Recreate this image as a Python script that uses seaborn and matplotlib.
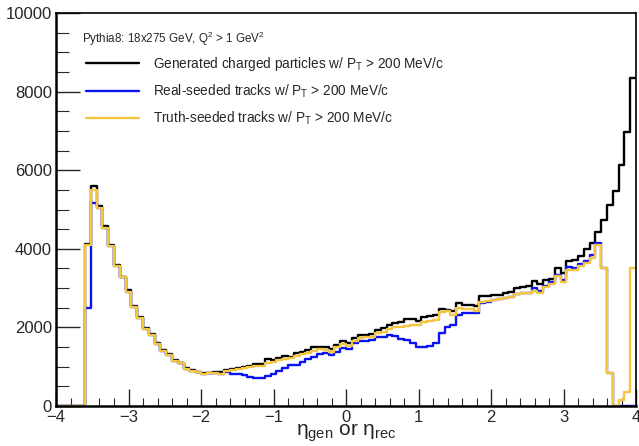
import numpy as np
import pandas as pd
import matplotlib
matplotlib.use("Agg")
import matplotlib.pyplot as plt
from matplotlib.ticker import MultipleLocator
from matplotlib.lines import Line2D
import seaborn as sns

# ---------------- data (100 bins, eta -4 .. 4) ----------------
eta_range = (-4.0, 4.0)
n_bins = 100

generated = [
    0, 0, 0, 0, 0, 4130, 5590, 5080, 4570, 4085,
    3593, 3295, 2939, 2548, 2276, 1979, 1826, 1597, 1427, 1316,
    1172, 1104, 960, 917, 870, 830, 850, 865, 870, 917,
    943, 977, 1002, 1028, 1062, 1062, 1189, 1172, 1215, 1283,
    1240, 1342, 1385, 1427, 1495, 1512, 1512, 1444, 1555, 1650,
    1613, 1724, 1809, 1809, 1826, 1937, 1979, 2064, 2123, 2149,
    2217, 2217, 2174, 2276, 2293, 2319, 2472, 2446, 2421, 2616,
    2574, 2574, 2548, 2803, 2810, 2828, 2828, 2888, 2913, 2998,
    3024, 3058, 3185, 3109, 3211, 3228, 3508, 3381, 3678, 3721,
    3823, 4000, 4150, 4434, 4739, 5117, 5478, 6141, 6982, 8357,
]

truth_seeded = [
    0, 0, 0, 0, 0, 4100, 5500, 5050, 4540, 4060,
    3570, 3270, 2910, 2520, 2250, 1955, 1800, 1575, 1405, 1295,
    1150, 1085, 945, 900, 855, 815, 835, 850, 820, 880,
    905, 940, 965, 990, 1025, 1030, 1104, 1121, 1172, 1189,
    1215, 1274, 1325, 1359, 1402, 1444, 1427, 1385, 1495, 1580,
    1529, 1664, 1724, 1749, 1749, 1851, 1894, 1962, 2004, 2021,
    2038, 2064, 2064, 2149, 2166, 2191, 2404, 2421, 2319, 2489,
    2463, 2463, 2429, 2659, 2660, 2700, 2726, 2760, 2785, 2845,
    2870, 2888, 2938, 2880, 3024, 3100, 3296, 3143, 3466, 3466,
    3551, 3636, 3763, 4102, 3508, 832, 0, 150, 350, 3516,
]

real_seeded = [
    0, 0, 0, 0, 0, 2490, 5165, 5050, 4540, 4060,
    3570, 3270, 2910, 2520, 2250, 1955, 1800, 1575, 1405, 1295,
    1150, 1085, 945, 900, 855, 815, 835, 850, 820, 870,
    815, 815, 790, 747, 705, 705, 772, 815, 892, 960,
    1045, 1045, 1130, 1189, 1257, 1316, 1342, 1300, 1385, 1470,
    1444, 1596, 1664, 1664, 1681, 1749, 1766, 1809, 1783, 1698,
    1681, 1596, 1512, 1495, 1529, 1596, 1851, 2004, 2064, 2319,
    2361, 2378, 2378, 2633, 2659, 2700, 2726, 2760, 2785, 2845,
    2870, 2888, 3000, 2930, 3060, 3150, 3340, 3200, 3540, 3520,
    3620, 3700, 3850, 4153, 3508, 832, 0, 0, 0, 0,
]

labels = [
    "Generated charged particles w/ P$_{\\mathrm{T}}$ > 200 MeV/c",
    "Real-seeded tracks w/ P$_{\\mathrm{T}}$ > 200 MeV/c",
    "Truth-seeded tracks w/ P$_{\\mathrm{T}}$ > 200 MeV/c",
]
title_text = "Pythia8: 18x275 GeV, Q$^{2}$ > 1 GeV$^{2}$"
y_ticks = [0, 2000, 4000, 6000, 8000, 10000]
x_ticks = [-4, -3, -2, -1, 0, 1, 2, 3, 4]

# ---------------- style ----------------
sns.set_theme(style="white")
plt.rcParams["font.family"] = ["Liberation Sans", "DejaVu Sans"]
plt.rcParams["mathtext.fontset"] = "custom"
plt.rcParams["mathtext.rm"] = "Liberation Sans"
plt.rcParams["mathtext.it"] = "Liberation Sans:italic"
plt.rcParams["mathtext.bf"] = "Liberation Sans:bold"

edges = np.linspace(eta_range[0], eta_range[1], n_bins + 1)
centers = 0.5 * (edges[:-1] + edges[1:])
df = pd.DataFrame({
    "eta": np.tile(centers, 3),
    "count": np.concatenate([generated, real_seeded, truth_seeded]).astype(float),
    "series": np.repeat(labels, len(centers)),
})

colors = ["#000000", "#0a14f0", "#f4c640"]

fig = plt.figure(figsize=(6.39, 4.46), dpi=100)
ax = fig.add_axes([56 / 639, 40 / 446, 580 / 639, 393 / 446])

for lab, col in zip(labels, colors):
    sub = df[df["series"] == lab]
    sns.histplot(data=sub, x="eta", weights="count", bins=n_bins,
                 binrange=eta_range, element="step", fill=False,
                 color=col, linewidth=1.7, ax=ax)

ax.set_xlim(-4, 4)
ax.set_ylim(0, 10000)
ax.set_xticks(x_ticks)
ax.set_yticks(y_ticks)
ax.set_yticklabels([str(v) for v in y_ticks])
ax.xaxis.set_minor_locator(MultipleLocator(0.2))
ax.yaxis.set_minor_locator(MultipleLocator(500))
ax.tick_params(axis="x", which="major", direction="in", length=12, width=1.0,
               labelsize=12, pad=3, bottom=True)
ax.tick_params(axis="x", which="minor", direction="in", length=6, width=0.8, bottom=True)
ax.tick_params(axis="y", which="major", direction="in", length=17, width=1.0,
               labelsize=12, pad=3, left=True)
ax.tick_params(axis="y", which="minor", direction="in", length=9, width=0.8, left=True)
for s in ax.spines.values():
    s.set_color("black")
    s.set_linewidth(1.2)
ax.spines["left"].set_linewidth(1.8)
ax.spines["bottom"].set_linewidth(1.8)

ax.set_ylabel("")
ax.set_xlabel("η$_{\\mathrm{gen}}$ or η$_{\\mathrm{rec}}$", fontsize=15, labelpad=-3)

ax.text((82 - 56) / 580, (406 - 39) / 393, title_text, transform=ax.transAxes,
        fontsize=8.4, ha="left", va="center")

leg_handles = [Line2D([0], [0], color=c, lw=1.7) for c in colors]
ax.legend(leg_handles, labels, loc="upper left",
          bbox_to_anchor=((86 - 56) / 580, (406 - 55) / 393),
          frameon=False, fontsize=9.8, handlelength=3.9, handletextpad=1.05,
          labelspacing=0.7, borderpad=0, borderaxespad=0)

fig.savefig("out.png", dpi=100)
